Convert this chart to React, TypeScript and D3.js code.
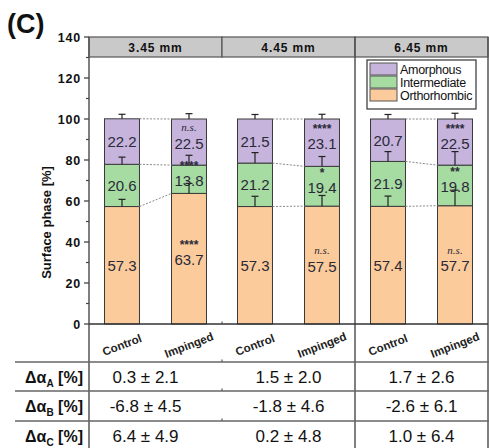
import React from "react";
import * as d3 from "d3";

const panels = ["3.45 mm", "4.45 mm", "6.45 mm"];
const groups = ["Control", "Impinged"];
const phases = ["Orthorhombic", "Intermediate", "Amorphous"];
const legendOrder = ["Amorphous", "Intermediate", "Orthorhombic"];
// one entry per bar, in order panel x group
const orthoValues = [57.3, 63.7, 57.3, 57.5, 57.4, 57.7];
const interValues = [20.6, 13.8, 21.2, 19.4, 21.9, 19.8];
const amorphValues = [22.2, 22.5, 21.5, 23.1, 20.7, 22.5];
const orthoErr = [3.5, 4.9, 5.0, 5.2, 5.0, 7.6];
const interErr = [3.5, 4.8, 5.1, 4.8, 4.8, 6.6];
const amorphErr = [2.2, 2.6, 2.2, 2.3, 2.2, 2.8];
const orthoSig = ["", "****", "", "n.s.", "", "n.s."];
const interSig = ["", "****", "", "*", "", "**"];
const amorphSig = ["", "n.s.", "", "****", "", "****"];
const yTicks = [0, 20, 40, 60, 80, 100, 120, 140];
const yMinorTicks = [10, 30, 50, 70, 90, 110, 130];
const rowSubs = ["A", "B", "C"];
const deltaA = ["0.3 ± 2.1", "1.5 ± 2.0", "1.7 ± 2.6"];
const deltaB = ["-6.8 ± 4.5", "-1.8 ± 4.6", "-2.6 ± 6.1"];
const deltaC = ["6.4 ± 4.9", "0.2 ± 4.8", "1.0 ± 6.4"];

const colors: Record<string, string> = {
  Orthorhombic: "#fccb9b",
  Intermediate: "#a6dba2",
  Amorphous: "#c6b4dc",
};

const W = 489;
const H = 448;
const left = 89;
const right = 488;
const FONT = "Liberation Sans, Arial, sans-serif";

export default function App() {
  const y = d3.scaleLinear().domain([0, 140]).range([324, 37]);
  const px = d3.scaleBand<string>().domain(panels).range([left, right]).padding(0);
  const gx = d3
    .scaleBand<string>()
    .domain(groups)
    .range([0, px.bandwidth()])
    .paddingInner(0.478)
    .paddingOuter(0.2315);
  const bw = gx.bandwidth();

  const valuesByPhase = [orthoValues, interValues, amorphValues];
  const errByPhase = [orthoErr, interErr, amorphErr];
  const sigByPhase = [orthoSig, interSig, amorphSig];

  const bars: any[] = [];
  panels.forEach((p, pi) => {
    groups.forEach((g, gi) => {
      const idx = pi * 2 + gi;
      const x0 = (px(p) as number) + (gx(g) as number);
      let cum = 0;
      const segs = phases.map((ph, k) => {
        const v = valuesByPhase[k][idx];
        const s = { phase: ph, y0: cum, y1: cum + v, v, err: errByPhase[k][idx], sig: sigByPhase[k][idx] };
        cum += v;
        return s;
      });
      bars.push({ p, g, pi, gi, x0, segs });
    });
  });

  const header0 = y(140);
  const header1 = 57;
  const tableLines = [362, 391, 421];
  const rowCenters = [377, 406, 436];
  const rows = [deltaA, deltaB, deltaC];

  return (
    <svg width={W} height={H} style={{ display: "block", position: "absolute", left: 0, top: 0 }} fontFamily={FONT}>
      <rect x={0} y={0} width={W} height={H} fill="#fff" />
      {/* (C) label */}
      <text x={7} y={33} fontSize={27} fontWeight="bold" fill="#111" fontFamily={FONT}>
        (C)
      </text>

      {/* bars */}
      {bars.map((b, i) => (
        <g key={"b" + i}>
          {b.segs.map((s: any, k: number) => (
            <rect
              key={k}
              x={b.x0}
              y={y(s.y1)}
              width={bw}
              height={y(s.y0) - y(s.y1)}
              fill={colors[s.phase]}
              stroke="#3a3a3a"
              strokeWidth={1}
            />
          ))}
        </g>
      ))}

      {/* connectors */}
      {panels.map((p, pi) => {
        const c = bars[pi * 2];
        const m = bars[pi * 2 + 1];
        return c.segs.map((s: any, k: number) => (
          <line
            key={"c" + pi + k}
            x1={c.x0 + bw}
            x2={m.x0}
            y1={y(s.y1)}
            y2={y(m.segs[k].y1)}
            stroke="#8a8a8a"
            strokeWidth={1}
            strokeDasharray="2,1.5"
          />
        ));
      })}

      {/* error bars */}
      {bars.map((b, i) =>
        b.segs.map((s: any, k: number) => {
          const cx = b.x0 + bw / 2;
          return (
            <g key={"e" + i + k} stroke="#222" strokeWidth={1.2}>
              <line x1={cx} x2={cx} y1={y(s.y1)} y2={y(s.y1 + s.err)} />
              <line x1={cx - 3.5} x2={cx + 3.5} y1={y(s.y1 + s.err)} y2={y(s.y1 + s.err)} />
            </g>
          );
        })
      )}

      {/* value labels and significance */}
      {bars.map((b, i) =>
        b.segs.map((s: any, k: number) => {
          const cx = b.x0 + bw / 2;
          const cy = (y(s.y0) + y(s.y1)) / 2;
          const ly = s.sig ? cy + 1 : cy;
          return (
            <g key={"l" + i + k}>
              <text x={cx} y={ly + 5.5} textAnchor="middle" fontSize={15} fill="#2a2a38">
                {s.v.toFixed(1)}
              </text>
              {s.sig === "n.s." && (
                <text
                  x={cx}
                  y={ly - 12}
                  textAnchor="middle"
                  fontSize={11}
                  fontStyle="italic"
                  fontFamily="Liberation Serif, Times New Roman, serif"
                  fill="#2a2a38"
                >
                  n.s.
                </text>
              )}
              {s.sig && s.sig !== "n.s." && (
                <text x={cx} y={ly - 10.5} textAnchor="middle" fontSize={12} fontWeight="bold" fill="#2a2a38">
                  {s.sig}
                </text>
              )}
            </g>
          );
        })
      )}

      {/* header */}
      {panels.map((p) => (
        <g key={"h" + p}>
          <rect x={px(p)} y={header0} width={px.bandwidth()} height={header1 - header0} fill="#c9c9c9" stroke="#555" strokeWidth={1.2} />
          <text
            x={(px(p) as number) + px.bandwidth() / 2}
            y={(header0 + header1) / 2 + 4.5}
            textAnchor="middle"
            fontSize={12}
            fontWeight="bold"
            letterSpacing={0.9}
            fill="#111"
          >
            {p}
          </text>
        </g>
      ))}

      {/* frame lines */}
      <line x1={left} x2={left} y1={header0} y2={H} stroke="#555" strokeWidth={1.5} />
      <line x1={right} x2={right} y1={header0} y2={H} stroke="#555" strokeWidth={1.5} />
      <line x1={px(panels[2]) as number} x2={px(panels[2]) as number} y1={header0} y2={H} stroke="#555" strokeWidth={1.5} />
      <line x1={left} x2={right} y1={y(0)} y2={y(0)} stroke="#333" strokeWidth={1.5} />
      {/* small ticks at panel 1/2 boundary */}
      {[y(0), ...tableLines].map((ty, i) => (
        <line key={"pt" + i} x1={px(panels[1]) as number} x2={px(panels[1]) as number} y1={ty} y2={ty - 2.5} stroke="#555" strokeWidth={1.2} />
      ))}

      {/* y axis ticks */}
      {yTicks.map((t) => (
        <g key={"yt" + t}>
          <line x1={left - 5} x2={left} y1={y(t)} y2={y(t)} stroke="#444" strokeWidth={1.3} />
          <text x={left - 8} y={y(t) + 4.5} textAnchor="end" fontSize={12.5} fontWeight="bold" letterSpacing={0.8} fill="#111">
            {t}
          </text>
        </g>
      ))}
      {yMinorTicks.map((t) => (
        <line key={"ym" + t} x1={left - 3} x2={left} y1={y(t)} y2={y(t)} stroke="#444" strokeWidth={1.2} />
      ))}
      <text
        transform={`translate(46,${(y(0) + y(100)) / 2 + 1}) rotate(-90)`}
        textAnchor="middle"
        fontSize={13}
        fontWeight="bold"
        fill="#111"
        dominantBaseline="central"
      >
        Surface phase [%]
      </text>

      {/* x category labels */}
      {bars.map((b, i) => (
        <text
          key={"xl" + i}
          transform={`translate(${b.x0 + bw / 2},${345}) rotate(-21)`}
          textAnchor="middle"
          fontSize={11.5}
          fontWeight="bold"
          fill="#222"
          dominantBaseline="central"
        >
          {b.g}
        </text>
      ))}

      {/* legend */}
      <g>
        <rect x={367} y={60} width={109} height={49} fill="#fff" stroke="#333" strokeWidth={1.2} />
        {legendOrder.map((ph, i) => (
          <g key={"lg" + ph}>
            <rect x={370} y={63 + i * 13} width={27} height={12} fill={colors[ph]} stroke="#555" strokeWidth={1} />
            <text x={400} y={63 + i * 13 + 10.5} fontSize={12.5} letterSpacing={-0.3} fill="#111">
              {ph}
            </text>
          </g>
        ))}
      </g>

      {/* table */}
      {tableLines.map((ty, i) => (
        <line key={"tl" + i} x1={15} x2={W} y1={ty} y2={ty} stroke="#666" strokeWidth={1.5} />
      ))}
      {rows.map((row, ri) => (
        <g key={"row" + ri}>
          <text x={83} y={rowCenters[ri] + 6} textAnchor="end" fontSize={16} fontWeight="bold" fill="#111">
            Δα
            <tspan fontSize={10} dy={4}>{rowSubs[ri]}</tspan>
            <tspan dy={-4}> [%]</tspan>
          </text>
          {row.map((v, ci) => (
            <text
              key={"v" + ci}
              x={(px(panels[ci]) as number) + px.bandwidth() / 2 - (ci === 0 ? 10 : 0)}
              y={rowCenters[ri] + 6}
              textAnchor="middle"
              fontSize={17}
              fill="#111"
            >
              {v}
            </text>
          ))}
        </g>
      ))}
    </svg>
  );
}
